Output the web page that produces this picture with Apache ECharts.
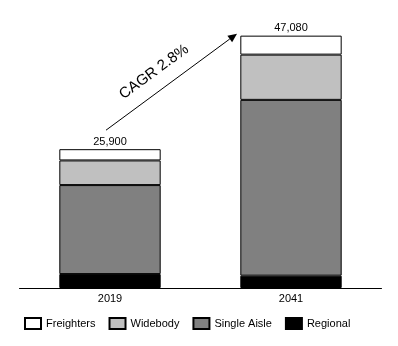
<!DOCTYPE html>
<html><head><meta charset="utf-8">
<script src="https://cdn.jsdelivr.net/npm/echarts@6/dist/echarts.min.js"></script>
<style>html,body{margin:0;padding:0;background:#fff}#c{width:398px;height:346px}</style>
</head><body><div id="c"></div>
<script>
const categories = ['2019', '2041'];
const regional = [2600, 2300];
const singleAisle = [16600, 32800];
const widebody = [4600, 8440];
const freighters = [2100, 3540];
const totals = [25900, 47080];
const totalLabels = ['25,900', '47,080'];
const cagrText = 'CAGR 2.8%';

const chart = echarts.init(document.getElementById('c'), null, {renderer: 'canvas'});
const font = 'Liberation Sans, Arial, sans-serif';
function seg(name, data, color) {
  return {
    name, type: 'bar', stack: 'total', data, barWidth: '56%',
    itemStyle: {color, borderColor: '#000', borderWidth: 1},
    emphasis: {disabled: true}
  };
}
const series = [
  seg('Regional', regional, '#000000'),
  seg('Single Aisle', singleAisle, '#808080'),
  seg('Widebody', widebody, '#c0c0c0'),
  seg('Freighters', freighters, '#ffffff')
];
series[3].label = {
  show: true, position: 'top', distance: 2, color: '#000', fontSize: 11, fontFamily: font,
  formatter: p => totalLabels[p.dataIndex]
};
chart.setOption({
  animation: false,
  textStyle: {fontFamily: font},
  grid: {left: 19.5, right: 16.5, top: 20, bottom: 58},
  xAxis: {
    type: 'category', data: categories,
    axisLine: {lineStyle: {color: '#000', width: 1}},
    axisTick: {show: false},
    axisLabel: {color: '#000', fontSize: 11, fontFamily: font, margin: 5}
  },
  yAxis: {type: 'value', min: 0, max: 50000, show: false, splitLine: {show: false}},
  legend: {
    data: ['Freighters', 'Widebody', 'Single Aisle', 'Regional'],
    icon: 'rect',
    left: 19, top: 312, itemWidth: 16, itemHeight: 11, itemGap: 13,
    textStyle: {color: '#000', fontSize: 11, fontFamily: font}
  },
  series
});
// annotation arrow between the two bar tops
const p1 = chart.convertToPixel({xAxisIndex: 0, yAxisIndex: 0}, [0, totals[0]]);
const p2 = chart.convertToPixel({xAxisIndex: 0, yAxisIndex: 0}, [1, totals[1]]);
const x1 = p1[0] - 4, y1 = p1[1] - 19;
const x2 = p2[0] - 54, y2 = p2[1] - 2;
const ang = Math.atan2(y2 - y1, x2 - x1);
const L = 9, W = 4;
const bx = x2 - L * Math.cos(ang), by = y2 - L * Math.sin(ang);
const nx = -Math.sin(ang), ny = Math.cos(ang);
const mx = (x1 + x2) / 2, my = (y1 + y2) / 2;
chart.setOption({
  graphic: [
    {type: 'line', shape: {x1, y1, x2: bx, y2: by}, style: {stroke: '#000', lineWidth: 1}},
    {type: 'polygon', shape: {points: [[x2, y2], [bx + nx * W, by + ny * W], [bx - nx * W, by - ny * W]]}, style: {fill: '#000'}},
    {type: 'text', x: mx - 13, y: my - 4, rotation: -ang, style: {text: cagrText, fill: '#000', font: '15px ' + font, align: 'center', verticalAlign: 'bottom'}}
  ]
});
</script></body></html>
